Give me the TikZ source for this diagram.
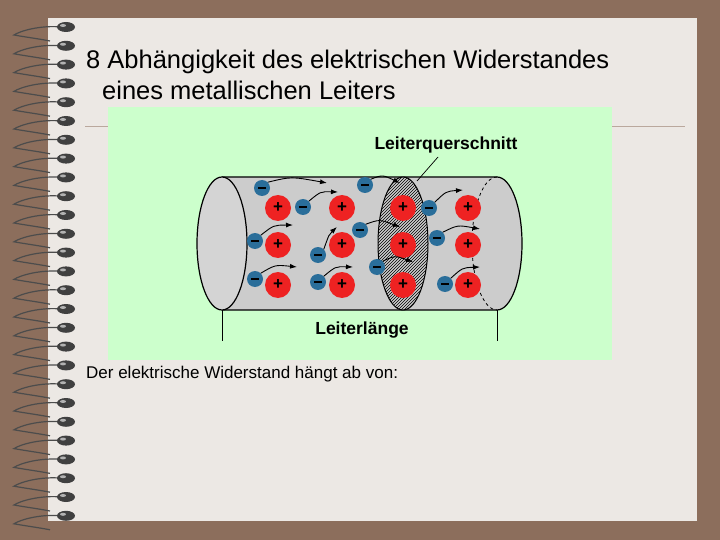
\documentclass[tikz,border=0pt]{standalone}
\usepackage{fontspec}
\setmainfont{Liberation Sans}
\usetikzlibrary{patterns,arrows.meta,calc}
\definecolor{bgbrown}{HTML}{8C6E5C}
\definecolor{paper}{HTML}{ECE8E4}
\definecolor{panel}{HTML}{CCFFCC}
\definecolor{ionred}{HTML}{EE2222}
\definecolor{eblue}{HTML}{2A6E9A}
\definecolor{tubegray}{HTML}{CCCCCC}
\tikzset{
 ion/.style={circle,fill=ionred,minimum size=26pt,inner sep=0pt,font=\bfseries\fontsize{17}{17}\selectfont},
 el/.style={circle,fill=eblue,minimum size=16pt,inner sep=0pt},
 flow/.style={-{Latex[length=7pt,width=5pt]},line width=0.9pt},
 lbl/.style={font=\bfseries\fontsize{17.5}{17.5}\selectfont}
}
\begin{document}
\begin{tikzpicture}[x=1pt,y=-1pt]
\useasboundingbox (0,0) rectangle (720,540);
\fill[bgbrown] (0,0) rectangle (720,540);
\fill[paper] (48,18) rectangle (697,521);
% spiral
\foreach \i in {0,...,26}{
 \pgfmathsetmacro{\yy}{27+18.8*\i}
 \draw[line width=1.2pt,black!70] (62,\yy) .. controls (40,\yy-2) and (20,\yy+4) .. (14,\yy+8) .. controls (25,\yy+10) and (40,\yy+12) .. (50,\yy+14);
 \fill[black!75] (66,\yy) ellipse (9pt and 5pt);
 \fill[white!70!black] (63,\yy-1.5) ellipse (3pt and 1.5pt);
}
\draw[color=bgbrown!60,line width=0.8pt] (85,126) -- (685,126);
\node[anchor=west,inner sep=0pt,font=\fontsize{25.5}{25.5}\selectfont] (t1) at (86,62) {8 Abhängigkeit des elektrischen Widerstandes};
\node[anchor=west,inner sep=0pt,font=\fontsize{25.5}{25.5}\selectfont] (t2) at (102,90) {eines metallischen Leiters};
\fill[panel] (108,107) rectangle (612,360);
% cylinder
\fill[tubegray] (222,177) -- (497,177) arc[start angle=90,end angle=-90,x radius=25pt,y radius=66.5pt] -- (222,310) -- cycle;
\draw[line width=1.2pt] (222,177) -- (497,177) arc[start angle=90,end angle=-90,x radius=25pt,y radius=66.5pt] -- (222,310);
\draw[dashed,line width=0.8pt] (497,177) arc[start angle=90,end angle=270,x radius=25pt,y radius=66.5pt];
\draw[line width=1.2pt,fill=tubegray!85!white] (222,243.5) ellipse (25pt and 66.5pt);
\draw[line width=1pt,fill=tubegray,postaction={pattern=north east lines}] (403,243.5) ellipse (25pt and 66.5pt);
% ions
\foreach \c [count=\k] in {278,342,403,468}{
 \node[ion] (p\k a) at (\c,208) {+};
 \node[ion] (p\k b) at (\c,245) {+};
 \node[ion] (p\k c) at (\c,285) {+};
}
% electrons and arrows
\foreach \ex/\ey/\tx/\ty [count=\n] in {262/188/327/183, 303/207/338/192, 255/241/293/225, 255/279/297/267, 318/255/337/227, 318/282/353/267, 365/185/400/183, 360/230/400/227, 377/267/413/262, 429/208/463/190, 437/238/480/229, 445/284/480/267}{
 \node[el] (e\n) at (\ex,\ey) {\rule{8pt}{2pt}};
 \coordinate (a\n) at (\tx,\ty);
 \draw[flow] (e\n.north east) .. controls ($(e\n.north east)!0.4!(a\n)+(0,-6)$) .. (a\n);
}
\node[lbl] (lq) at (446,145) {Leiterquerschnitt};
\coordinate (lqe) at (417,181);
\draw[line width=0.7pt] (438,157) -- (lqe);
\node[lbl] (ll) at (362,330) {Leiterlänge};
\coordinate (l1) at (222,310); \coordinate (l1b) at (222,341);
\coordinate (l2) at (497,310); \coordinate (l2b) at (497,341);
\draw[line width=0.7pt] (l1) -- (l1b);
\draw[line width=0.7pt] (l2) -- (l2b);
\node[anchor=west,inner sep=0pt,font=\fontsize{17}{17}\selectfont] (bt) at (86,374) {Der elektrische Widerstand hängt ab von:};
\end{tikzpicture}
\end{document}
